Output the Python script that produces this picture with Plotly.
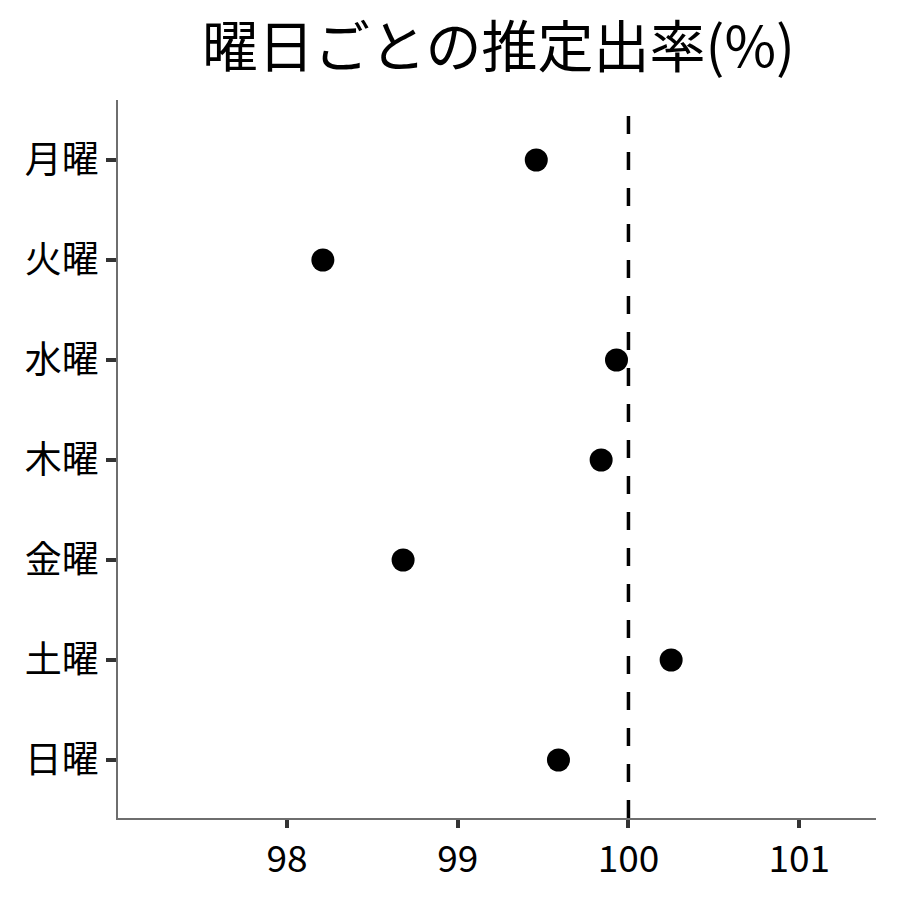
"""Dot plot of estimated rate by weekday."""

import plotly.graph_objects as go

# data
days = ['月曜', '火曜', '水曜', '木曜', '金曜', '土曜', '日曜']
rate = [99.46, 98.21, 99.93, 99.84, 98.68, 100.25, 99.59]
ref_value = 100
x_ticks = [98, 99, 100, 101]

font_name = 'Noto Sans CJK JP'

fig = go.Figure()
fig.add_trace(go.Scatter(
        x=rate,
        y=days,
        mode='markers',
        marker=dict(color='black', size=23),
        showlegend=False,
        ))

# reference line at 100%
fig.add_shape(
        type='line', xref='x', yref='paper',
        x0=ref_value, x1=ref_value, y0=0, y1=1,
        line=dict(color='black', width=3.5, dash='18px,18px'),
        )

fig.update_layout(
        width=900, height=900,
        margin=dict(l=110, r=32, t=92, b=90),
        plot_bgcolor='white',
        paper_bgcolor='white',
        font=dict(family=font_name, color='black', size=34),
        title=dict(
                text='曜日ごとの推定出率(%)',
                x=0.545, xanchor='center',
                y=0.956, yanchor='middle',
                font=dict(size=56, family=font_name, color='black'),
                ),
        xaxis=dict(
                range=[97.01, 101.45],
                tickvals=x_ticks,
                automargin=False,
                showgrid=False, zeroline=False,
                showline=True, linecolor='#6e6e6e', linewidth=1.5,
                ticks='outside', ticklen=8, tickwidth=4, tickcolor='#333333',
                tickfont=dict(size=37, color='black'),
                ),
        yaxis=dict(
                categoryorder='array', categoryarray=days,
                range=[6.58, -0.6],
                automargin=False,
                showgrid=False, zeroline=False,
                showline=True, linecolor='#6e6e6e', linewidth=1.5,
                ticks='outside', ticklen=10, tickwidth=4, tickcolor='#333333',
                tickfont=dict(size=37, color='black'),
                ),
        )

fig.write_html("out.html")
